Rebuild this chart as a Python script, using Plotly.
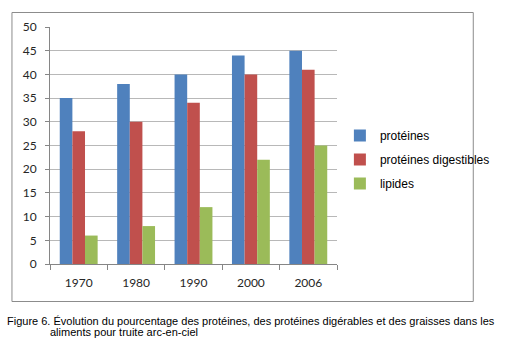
import plotly.graph_objects as go

years = ["1970", "1980", "1990", "2000", "2006"]
proteines = [35, 38, 40, 44, 45]
proteines_dig = [28, 30, 34, 40, 41]
lipides = [6, 8, 12, 22, 25]
series_names = ["protéines", "protéines digestibles", "lipides"]
colors = ["#4F81BD", "#C0504D", "#9BBB59"]

W, H = 507, 340
L, R, T, B = 50, 348, 27, 264  # plot area pixels

def px(x):
    return (x - L) / (R - L)

def py(y):
    return (B - y) / (B - T)

fig = go.Figure()
for name, vals, c in zip(series_names, [proteines, proteines_dig, lipides], colors):
    fig.add_trace(go.Bar(x=years, y=vals, name=name, marker=dict(color=c, line=dict(width=0)),
                         legendgroup=name))

axis_font = dict(family="Lato, Carlito, 'Open Sans', sans-serif", size=12, color="#262626")

fig.update_layout(
    width=W, height=H,
    margin=dict(l=L, r=W - R, t=T, b=H - B, pad=0),
    paper_bgcolor="white", plot_bgcolor="white",
    barmode="group", bargap=0.34, bargroupgap=0,
    showlegend=True,
    legend=dict(x=px(351), y=py(121), xanchor="left", yanchor="top",
                font=dict(family="Liberation Sans, Arial, sans-serif", size=12, color="#000000"),
                tracegroupgap=5, bgcolor="rgba(0,0,0,0)", itemclick=False),
    xaxis=dict(type="category", showgrid=False, showline=True, linecolor="#868686", linewidth=1,
               ticks="outside", ticklen=5, tickcolor="#868686", tickson="boundaries",
               tickfont=axis_font, ticklabelstandoff=8, fixedrange=True),
    yaxis=dict(range=[0, 50], tickvals=list(range(0, 55, 5)), showgrid=True,
               gridcolor="#b8b8b8", gridwidth=1, showline=True, linecolor="#868686",
               ticks="outside", ticklen=4, tickcolor="#868686", tickfont=axis_font,
               ticklabelstandoff=6, zeroline=False, fixedrange=True),
    shapes=[dict(type="rect", xref="paper", yref="paper", x0=px(10.5), x1=px(489.5),
                 y0=py(301.5), y1=py(12.5), line=dict(color="#8c8c8c", width=1),
                 fillcolor="rgba(0,0,0,0)", layer="below")],
    annotations=[
        dict(xref="paper", yref="paper", x=px(3), y=py(321), xanchor="left", yanchor="middle",
             text="Figure 6. Évolution du pourcentage des protéines, des protéines digérables et des graisses dans les",
             showarrow=False, font=dict(family="Liberation Sans, Arial, sans-serif", size=11, color="#000000")),
        dict(xref="paper", yref="paper", x=px(48), y=py(332), xanchor="left", yanchor="middle",
             text="aliments pour truite arc-en-ciel",
             showarrow=False, font=dict(family="Liberation Sans, Arial, sans-serif", size=11, color="#000000")),
    ],
)

fig.write_html("out.html", config={"displayModeBar": False})
